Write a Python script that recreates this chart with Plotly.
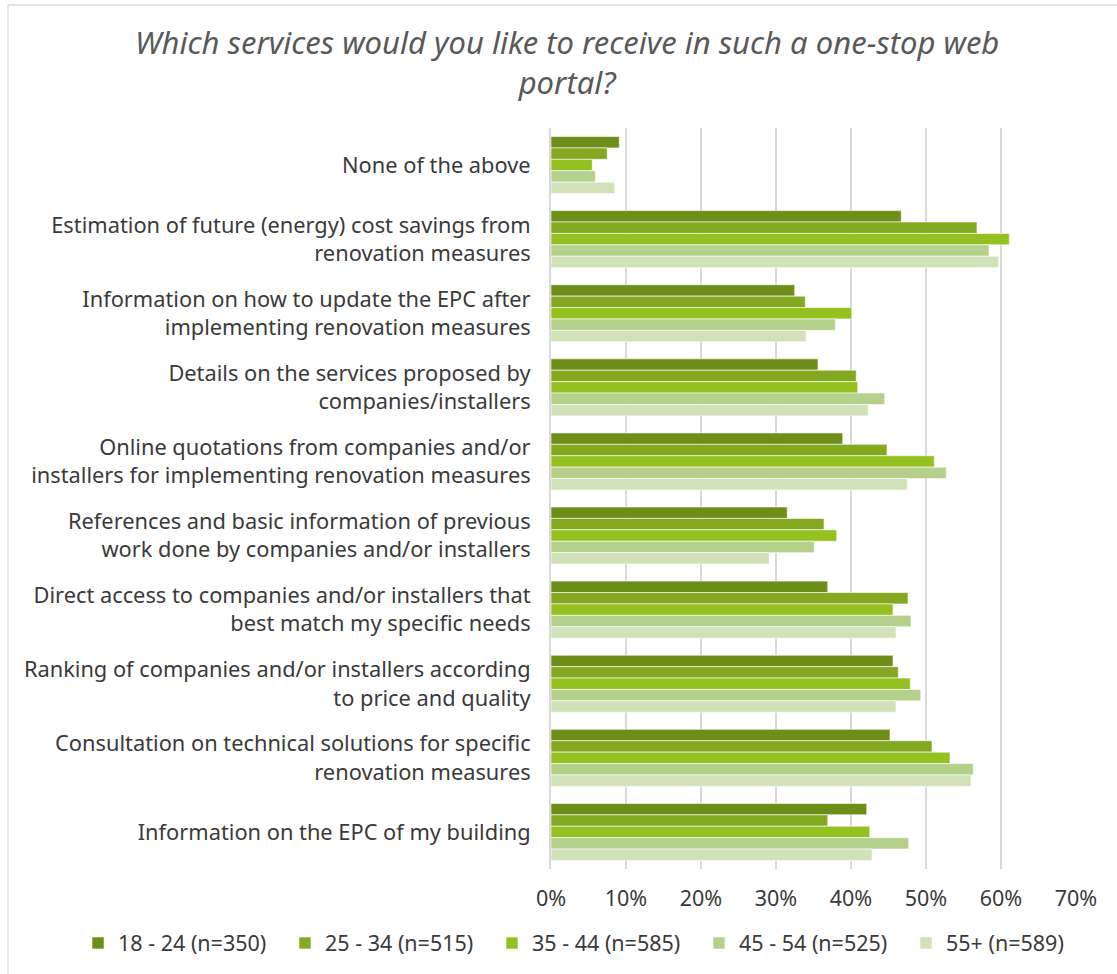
import plotly.graph_objects as go

categories = [
    "None of the above",
    "Estimation of future (energy) cost savings from<br>renovation measures",
    "Information on how to update the EPC after<br>implementing renovation measures",
    "Details on the services proposed by<br>companies/installers",
    "Online quotations from companies and/or<br>installers for implementing renovation measures",
    "References and basic information of previous<br>work done by companies and/or installers",
    "Direct access to companies and/or installers that<br>best match my specific needs",
    "Ranking of companies and/or installers according<br>to price and quality",
    "Consultation on technical solutions for specific<br>renovation measures",
    "Information on the EPC of my building",
]

series_names = ["18 - 24 (n=350)", "25 - 34 (n=515)", "35 - 44 (n=585)", "45 - 54 (n=525)", "55+ (n=589)"]

v_18_24 = [9.1, 46.7, 32.5, 35.6, 38.9, 31.5, 36.9, 45.6, 45.2, 42.1]
v_25_34 = [7.5, 56.8, 33.9, 40.7, 44.8, 36.4, 47.6, 46.3, 50.8, 36.9]
v_35_44 = [5.5, 61.1, 40.1, 40.9, 51.1, 38.1, 45.6, 47.9, 53.2, 42.5]
v_45_54 = [5.9, 58.4, 37.9, 44.5, 52.7, 35.1, 48.0, 49.3, 56.3, 47.7]
v_55 = [8.5, 59.7, 34.0, 42.3, 47.5, 29.1, 46.0, 46.0, 56.0, 42.8]

values = [v_18_24, v_25_34, v_35_44, v_45_54, v_55]
colors = ["#6E8E1A", "#84A81F", "#94C11F", "#B5D08B", "#D1E2B9"]

W, H = 1117, 974
L, R, T, B = 551, 41, 128, 105
PW, PH = W - L - R, H - T - B

fig = go.Figure()
for name, vals, col in zip(series_names, values, colors):
    fig.add_trace(go.Bar(
        y=categories, x=[v / 100 for v in vals], name=name, orientation="h",
        marker=dict(color=col, line=dict(color="white", width=0.6)),
    ))

fig.update_layout(
    width=W, height=H,
    paper_bgcolor="white", plot_bgcolor="white",
    font=dict(family="Noto Sans", color="#3A3A3A", size=21.5),
    barmode="group", bargap=0.23, bargroupgap=0,
    margin=dict(l=L, r=R, t=T, b=B, autoexpand=False),
    legend=dict(orientation="h", xref="paper", x=(78 - L) / PW, xanchor="left",
                y=-74 / PH, yanchor="middle",
                font=dict(size=21.5, color="#3A3A3A"),
                traceorder="normal", itemwidth=30,
                entrywidth=162, entrywidthmode="pixels"),
    showlegend=True,
)
fig.add_annotation(
    text="<i>Which services would you like to receive in such a one-stop web<br>portal?</i>",
    xref="paper", yref="paper", x=(567 - L) / PW, y=1 + (T - 62) / PH,
    xanchor="center", yanchor="middle", showarrow=False, align="center",
    font=dict(size=31, color="#595959", family="Noto Sans"),
)
fig.update_xaxes(range=[0, 0.7], tickformat=".0%", dtick=0.1, showgrid=True,
                 gridcolor="#D9D9D9", gridwidth=2, zeroline=False, showline=False,
                 ticks="", ticklabelstandoff=14, tickfont=dict(size=21.5, color="#3A3A3A"))
fig.update_yaxes(autorange="reversed", showline=True, linecolor="#D9D9D9", linewidth=2,
                 ticks="", ticklabelstandoff=14, tickfont=dict(size=21.8, color="#3A3A3A"))

fig.add_shape(type="line", xref="paper", yref="paper", x0=(8 - L) / PW, x1=1.2,
              y0=1 + (T - 5) / PH, y1=1 + (T - 5) / PH, line=dict(color="#E6E6E6", width=2))
fig.add_shape(type="line", xref="paper", yref="paper", x0=(8 - L) / PW, x1=(8 - L) / PW,
              y0=1 + (T - 5) / PH, y1=-0.2, line=dict(color="#E6E6E6", width=2))

fig.write_html("out.html", config={"displayModeBar": False},
               post_script="document.body.style.margin='0';")
